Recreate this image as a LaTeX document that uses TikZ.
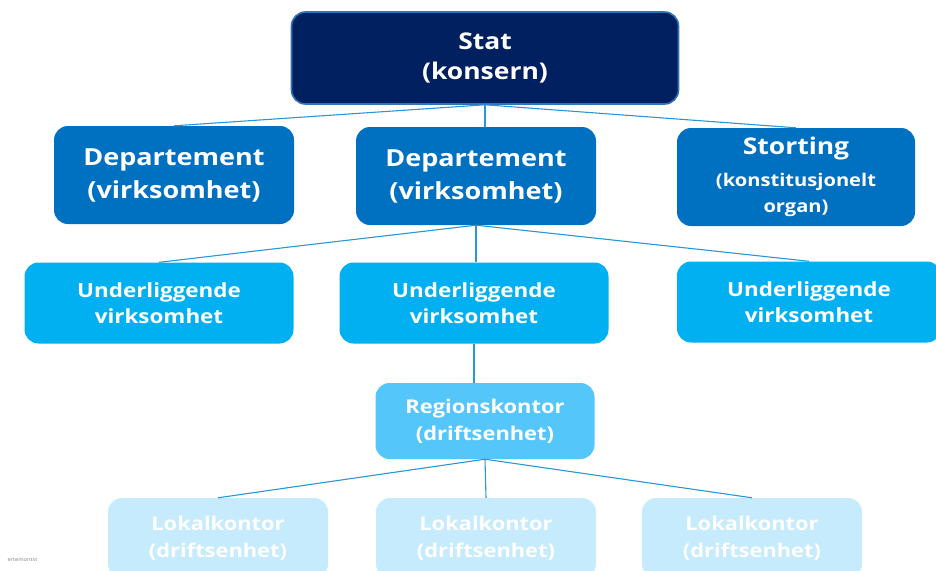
\documentclass[tikz,border=0pt]{standalone}
\usepackage{fontspec}
\setmainfont[FakeStretch=1.15]{Open Sans}
\usetikzlibrary{positioning}
\definecolor{StatNavy}{RGB}{0,32,96}
\definecolor{StatEdge}{RGB}{46,117,182}
\definecolor{DepBlue}{RGB}{0,112,192}
\definecolor{UndBlue}{RGB}{0,176,240}
\definecolor{RegBlue}{RGB}{84,198,250}
\definecolor{LokBlue}{RGB}{198,235,253}
\definecolor{LinkBlue}{RGB}{40,150,215}

\begin{document}
\begin{tikzpicture}[x=1pt, y=-1pt, font=\bfseries,
	boks/.style={rectangle, rounded corners=14pt, text=white, align=center, inner sep=0pt},
	stat/.style={boks, fill=StatNavy, draw=StatEdge, line width=1.6pt,
		minimum width=387pt, minimum height=92pt, font=\fontsize{23}{30}\selectfont\bfseries},
	dep/.style={boks, fill=DepBlue, minimum width=240pt, minimum height=98pt,
		font=\fontsize{23.5}{33}\selectfont\bfseries},
	und/.style={boks, fill=UndBlue, minimum width=269pt, minimum height=81pt,
		font=\fontsize{19.5}{26}\selectfont\bfseries},
	reg/.style={boks, fill=RegBlue, minimum width=219pt, minimum height=76pt,
		font=\fontsize{19}{27}\selectfont\bfseries},
	lok/.style={boks, fill=LokBlue, minimum width=220pt, minimum height=80pt,
		font=\fontsize{19}{27}\selectfont\bfseries},
	lenke/.style={LinkBlue, line width=1.1pt}]

	\useasboundingbox (0,0) rectangle (936,570);
	\clip (0,0) rectangle (936,570);

	\node[stat] (stat) at (485,58) {Stat\\(konsern)};
	\node[dep]  (dep1) at (174,175) {Departement\\(virksomhet)};
	\node[dep]  (dep2) at (476,176) {Departement\\(virksomhet)};
	\node[dep, minimum width=238pt, font=\fontsize{17.5}{26.5}\selectfont\bfseries] (sto) at (796,177)
		{{\fontsize{23}{30}\selectfont Storting}\\[5pt](konstitusjonelt\\organ)};

	\node[und] (und1) at (159,303) {Underliggende\\virksomhet};
	\node[und] (und2) at (474,303) {Underliggende\\virksomhet};
	\node[und, minimum width=264pt] (und3) at (809,302) {Underliggende\\virksomhet};

	\node[reg] (reg) at (485,421) {Regionskontor\\(driftsenhet)};

	\node[lok] (lok1) at (218,538) {Lokalkontor\\(driftsenhet)};
	\node[lok] (lok2) at (486,538) {Lokalkontor\\(driftsenhet)};
	\node[lok] (lok3) at (752,538) {Lokalkontor\\(driftsenhet)};

	\draw[lenke] (stat.south) -- (dep1.north);
	\draw[lenke] (stat.south) -- (dep2.north -| stat.south);
	\draw[lenke] (stat.south) -- (sto.north);
	\draw[lenke] (dep2.south) -- (und1.north);
	\draw[lenke] (dep2.south) -- (und2.north -| dep2.south);
	\draw[lenke] (dep2.south) -- (und3.north);
	\draw[lenke] (und2.south) -- (reg.north -| und2.south);
	\draw[lenke] (reg.south) -- (lok1.north);
	\draw[lenke] (reg.south) -- (lok2.north);
	\draw[lenke] (reg.south) -- (lok3.north);

	\node[anchor=west, font=\fontsize{5}{6}\selectfont, text=gray] (note) at (4,560) {ertemontst};
\end{tikzpicture}
\end{document}
